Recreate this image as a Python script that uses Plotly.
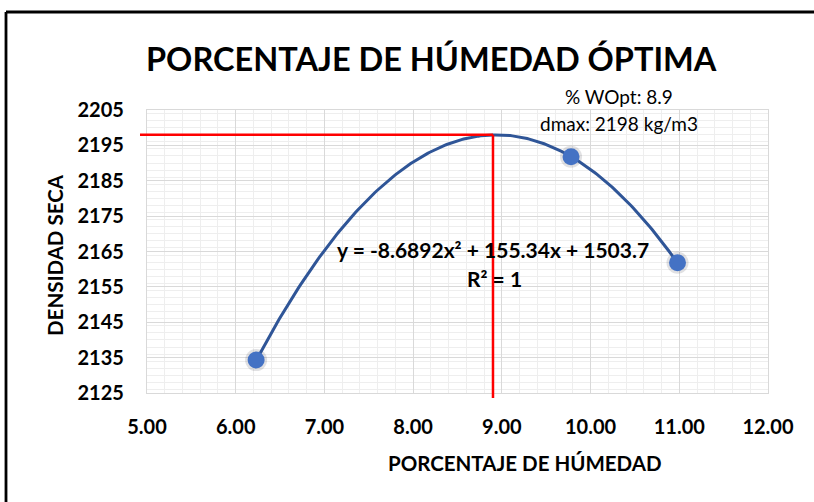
import numpy as np
import plotly.graph_objects as go

# Compaction test points: moisture content (%) vs dry density (kg/m3)
humedad = [6.23, 9.78, 10.98]
densidad = [2134.3, 2191.8, 2161.8]

# Second-order trendline coefficients (a*x^2 + b*x + c) and its fit quality
coef_a, coef_b, coef_c = -8.6892, 155.34, 1503.7
r2 = 1

# Optimum moisture and maximum dry density
w_opt = 8.9
d_max = 2198

x_ticks = [5, 6, 7, 8, 9, 10, 11, 12]
y_ticks = [2125, 2135, 2145, 2155, 2165, 2175, 2185, 2195, 2205]

X_RANGE = [5, 12]
Y_RANGE = [2125, 2205]

W, H = 814, 502
# plot area in pixels
PL, PR, PT, PB = 147, 768, 110, 393

FONT = "Lato"
BLUE_DOT = "#4472C4"
BLUE_LINE = "#2F5597"

xs = np.linspace(min(humedad), max(humedad), 200)
ys = coef_a * xs**2 + coef_b * xs + coef_c

fig = go.Figure()

# soft shadow under the markers
fig.add_trace(go.Scatter(
    x=humedad, y=densidad, mode="markers",
    marker=dict(size=22, color="rgba(40,40,60,0.14)", line=dict(width=0)),
    hoverinfo="skip", showlegend=False,
))
fig.add_trace(go.Scatter(
    x=xs, y=ys, mode="lines",
    line=dict(color=BLUE_LINE, width=3),
    hoverinfo="skip", showlegend=False,
))
fig.add_trace(go.Scatter(
    x=humedad, y=densidad, mode="markers",
    marker=dict(size=17, color=BLUE_DOT, line=dict(width=0)),
    showlegend=False,
))


def px_x(p):
    return p / W


def px_y(p):
    return 1 - p / H


def data_to_paper_x(v):
    return px_x(PL + (v - X_RANGE[0]) / (X_RANGE[1] - X_RANGE[0]) * (PR - PL))


def data_to_paper_y(v):
    return px_y(PB - (v - Y_RANGE[0]) / (Y_RANGE[1] - Y_RANGE[0]) * (PB - PT))


red = dict(color="#FF0000", width=2.5)
shapes = [
    # horizontal guide at maximum dry density
    dict(type="line", xref="paper", yref="paper",
         x0=px_x(PL - 7), x1=data_to_paper_x(w_opt),
         y0=data_to_paper_y(d_max), y1=data_to_paper_y(d_max), line=red),
    # vertical guide at optimum moisture
    dict(type="line", xref="paper", yref="paper",
         x0=data_to_paper_x(w_opt), x1=data_to_paper_x(w_opt),
         y0=data_to_paper_y(d_max), y1=px_y(PB + 5), line=red),
    # chart frame
    dict(type="line", xref="paper", yref="paper",
         x0=px_x(6), x1=1, y0=px_y(12), y1=px_y(12),
         line=dict(color="black", width=2.8)),
    dict(type="line", xref="paper", yref="paper",
         x0=px_x(6), x1=px_x(6), y0=px_y(12), y1=0,
         line=dict(color="black", width=2.8)),
]

eq_text = f"y = {coef_a}x² + {coef_b}x + {coef_c}"
annotations = [
    dict(text="<b>PORCENTAJE DE HÚMEDAD ÓPTIMA</b>", x=px_x(432), y=px_y(58),
         xref="paper", yref="paper", showarrow=False, xanchor="center", yanchor="middle",
         font=dict(family=FONT, size=32.5, color="black")),
    dict(text="<b>PORCENTAJE DE HÚMEDAD</b>", x=px_x(525), y=px_y(463),
         xref="paper", yref="paper", showarrow=False, xanchor="center", yanchor="middle",
         font=dict(family=FONT, size=20.5, color="black")),
    dict(text="<b>DENSIDAD SECA</b>", x=px_x(55), y=px_y(255), textangle=-90,
         xref="paper", yref="paper", showarrow=False, xanchor="center", yanchor="middle",
         font=dict(family=FONT, size=20.5, color="black")),
    dict(text=f"% WOpt: {w_opt}", x=px_x(619), y=px_y(96),
         xref="paper", yref="paper", showarrow=False, xanchor="center", yanchor="middle",
         font=dict(family=FONT, size=19, color="black")),
    dict(text=f"dmax: {d_max} kg/m3", x=px_x(619), y=px_y(123),
         xref="paper", yref="paper", showarrow=False, xanchor="center", yanchor="middle",
         font=dict(family=FONT, size=19, color="black")),
    dict(text=f"<b>{eq_text}</b>", x=px_x(493), y=px_y(249),
         xref="paper", yref="paper", showarrow=False, xanchor="center", yanchor="middle",
         font=dict(family=FONT, size=21, color="black")),
    dict(text=f"<b>R² = {r2}</b>", x=px_x(494), y=px_y(278),
         xref="paper", yref="paper", showarrow=False, xanchor="center", yanchor="middle",
         font=dict(family=FONT, size=21, color="black")),
]

axis_common = dict(
    showgrid=True, gridcolor="#D9D9D9", gridwidth=1.2,
    showline=True, linecolor="#D9D9D9", linewidth=1.2, mirror=True,
    zeroline=False, ticks="", fixedrange=True, automargin=False,
    tickfont=dict(family=FONT, size=20, color="black"),
)

fig.update_layout(
    width=W, height=H,
    margin=dict(l=0, r=0, t=0, b=0, pad=0, autoexpand=False),
    paper_bgcolor="white", plot_bgcolor="white",
    font=dict(family=FONT, color="black"),
    xaxis=dict(
        **axis_common,
        domain=[PL / W, PR / W], range=X_RANGE,
        tickvals=x_ticks, ticktext=[f"<b>{v:.2f}</b>" for v in x_ticks],
        ticklabelstandoff=16,
        minor=dict(dtick=0.2, showgrid=True, gridcolor="#EEEEEE", gridwidth=1.2),
    ),
    yaxis=dict(
        **axis_common,
        domain=[1 - PB / H, 1 - PT / H], range=Y_RANGE,
        tickvals=y_ticks, ticktext=[f"<b>{v}</b>" for v in y_ticks],
        ticklabelstandoff=18,
        minor=dict(dtick=2, showgrid=True, gridcolor="#EEEEEE", gridwidth=1.2),
    ),
    shapes=shapes,
    annotations=annotations,
)

fig.write_html("out.html")
